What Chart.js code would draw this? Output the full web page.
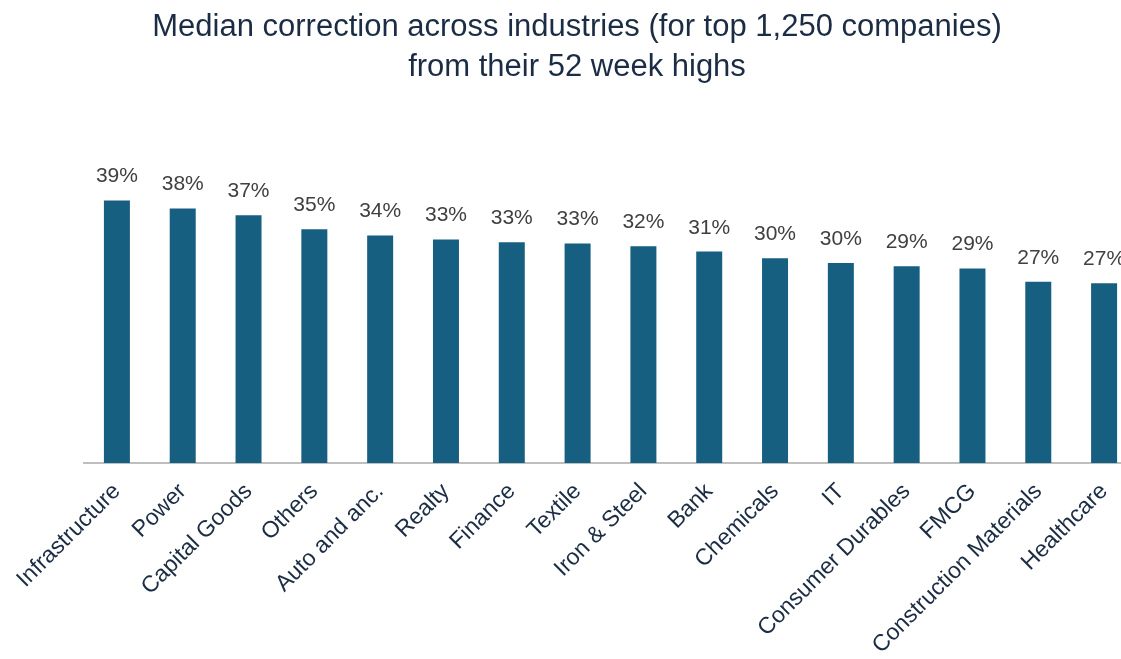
<!DOCTYPE html>
<html>
<head>
<meta charset="utf-8">
<title>Median correction across industries</title>
<script src="https://cdn.jsdelivr.net/npm/chart.js@4.4.1/dist/chart.umd.min.js"></script>
<style>
    html, body { margin: 0; padding: 0; background: #ffffff; overflow: hidden; }
    #wrap { width: 1154px; height: 659px; }
</style>
</head>
<body>
<div id="wrap">
    <canvas id="correctionChart" width="1154" height="659"></canvas>
</div>
<script>
// Industry names, in the order they appear on the x axis
const industries = [
    'Infrastructure', 'Power', 'Capital Goods', 'Others', 'Auto and anc.',
    'Realty', 'Finance', 'Textile', 'Iron & Steel', 'Bank', 'Chemicals',
    'IT', 'Consumer Durables', 'FMCG', 'Construction Materials', 'Healthcare'
];

// Median correction from 52 week high (%)
const medianCorrection = [
    39.0, 37.8, 36.8, 34.7, 33.8, 33.2, 32.8, 32.6,
    32.2, 31.4, 30.4, 29.7, 29.2, 28.9, 26.9, 26.7
];

const titleLines = [
    'Median correction across industries (for top 1,250 companies)',
    'from their 52 week highs'
];

const barColor = '#175f80';
const labelColor = '#404040';
const axisTextColor = '#1b2c44';
const fontFamily = '"Liberation Sans", Arial, sans-serif';

// Draws the "39%" style labels above each bar
const barValueLabels = {
    id: 'barValueLabels',
    afterDatasetsDraw(chart) {
        const ctx = chart.ctx;
        const meta = chart.getDatasetMeta(0);
        ctx.save();
        ctx.font = '21px ' + fontFamily;
        ctx.fillStyle = labelColor;
        ctx.textAlign = 'center';
        ctx.textBaseline = 'alphabetic';
        meta.data.forEach((bar, i) => {
            const value = chart.data.datasets[0].data[i];
            ctx.fillText(Math.round(value) + '%', bar.x, bar.y - 18);
        });
        ctx.restore();
    }
};

const ctx = document.getElementById('correctionChart').getContext('2d');

new Chart(ctx, {
    type: 'bar',
    data: {
        labels: industries,
        datasets: [{
            label: 'Median correction',
            data: medianCorrection,
            backgroundColor: barColor,
            borderWidth: 0,
            categoryPercentage: 1,
            barPercentage: 0.395
        }]
    },
    options: {
        responsive: false,
        animation: false,
        layout: {
            padding: { left: 17, right: 17, top: 0, bottom: 0 }
        },
        plugins: {
            legend: { display: false },
            tooltip: { enabled: false },
            title: {
                display: true,
                text: titleLines,
                color: '#1b2c44',
                font: { family: fontFamily, size: 31, weight: 'normal', lineHeight: 1.29 },
                padding: { top: 7, bottom: 73 }
            }
        },
        scales: {
            x: {
                grid: { display: false, drawTicks: false },
                border: { display: true, color: '#bfbfbf', width: 2 },
                ticks: {
                    color: axisTextColor,
                    font: { family: fontFamily, size: 23 },
                    minRotation: 45,
                    maxRotation: 45,
                    autoSkip: false,
                    padding: 15
                },
                afterFit(scale) {
                    scale.height = 196;
                }
            },
            y: {
                // hidden axis, only keeps the left margin of the plot
                display: true,
                min: 0,
                max: 45,
                grid: { display: false, drawTicks: false },
                border: { display: false },
                ticks: { display: false },
                afterFit(scale) {
                    scale.width = 67;
                }
            }
        }
    },
    plugins: [barValueLabels]
});
</script>
</body>
</html>
